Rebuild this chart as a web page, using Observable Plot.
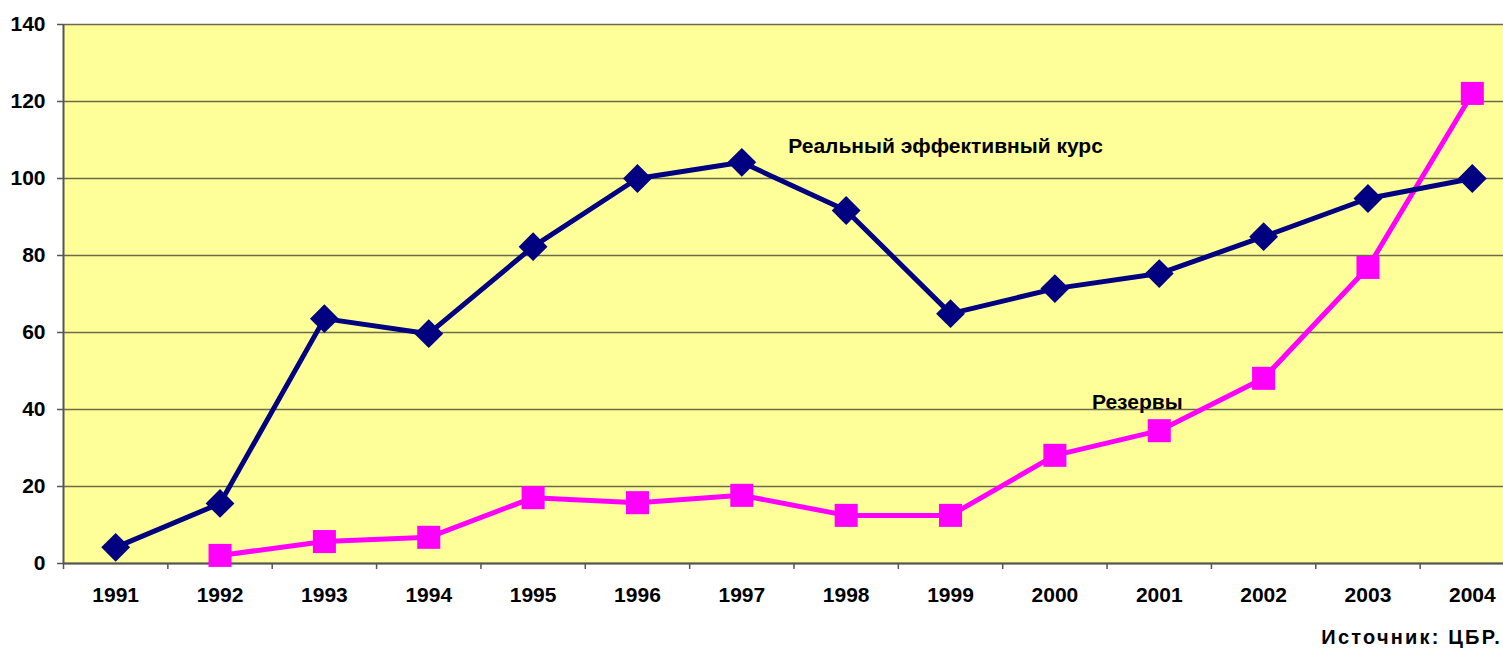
<!DOCTYPE html>
<html><head><meta charset="utf-8">
<script src="https://cdn.jsdelivr.net/npm/d3@7"></script>
<script src="https://cdn.jsdelivr.net/npm/@observablehq/plot@0.6"></script>
<style>
body{margin:0;background:#fff;font-family:"Liberation Sans",Arial,sans-serif;}
#cap{width:1503px;text-align:right;font:bold 20px "Liberation Sans",Arial,sans-serif;letter-spacing:2.2px;margin-top:11px;box-sizing:border-box;padding-right:1px;}
</style></head>
<body>
<div id="chart"></div>
<div id="cap">Источник: ЦБР.</div>
<script>
const years = [1991,1992,1993,1994,1995,1996,1997,1998,1999,2000,2001,2002,2003,2004];
const reer = [4.2,15.6,63.6,59.7,82.3,100,104.2,91.7,64.9,71.4,75.3,84.9,94.8,100];
const reserveYears = [1992,1993,1994,1995,1996,1997,1998,1999,2000,2001,2002,2003,2004];
const reserves = [2.1,5.7,6.8,17.1,15.8,17.7,12.5,12.5,28.1,34.5,48.1,76.9,122.1];
const yTicks = [0,20,40,60,80,100,120,140];
const boundaryTicks = [1990.5,1991.5,1992.5,1993.5,1994.5,1995.5,1996.5,1997.5,1998.5,1999.5,2000.5,2001.5,2002.5,2003.5];
const reerLabel = [{year: 1999, value: 108.3, text: "Реальный эффективный курс"}];
const resLabel = [{year: 2001, value: 41.8, text: "Резервы"}];

const reerData = years.map((y,i)=>({year:y, value:reer[i]}));
const resData = reserveYears.map((y,i)=>({year:y, value:reserves[i]}));

const chart = Plot.plot({
  width: 1503,
  height: 615,
  marginLeft: 63,
  marginRight: 0,
  marginTop: 24,
  marginBottom: 52,
  style: {fontFamily: '"Liberation Sans", Arial, sans-serif', fontWeight: "bold", fontSize: "21px", color: "#000", background: "#fff"},
  x: {domain: [1990.5, 2004.5], range: [63, 1524]},
  y: {domain: [0, 140]},
  marks: [
    Plot.frame({fill: "#FFFF99", stroke: null}),
    Plot.gridY(yTicks, {stroke: "#6b6b4a", strokeOpacity: 1, strokeWidth: 1.5}),
    Plot.axisY(yTicks, {tickSize: 6, tickPadding: 12, stroke: "#555", strokeWidth: 1.5, fontSize: 21, fontWeight: "bold", label: null}),
    Plot.axisX(boundaryTicks, {tickSize: 6, tickFormat: () => "", stroke: "#555", strokeWidth: 1.5, label: null}),
    Plot.axisX(years, {tickSize: 0, tickPadding: 24, tickFormat: d => String(d), fontSize: 21, fontWeight: "bold", label: null, style: "letter-spacing:0.6px"}),
    Plot.ruleX([1990.5], {stroke: "#555", strokeWidth: 2}),
    Plot.ruleY([0], {stroke: "#555", strokeWidth: 2}),
    Plot.line(resData, {x: "year", y: "value", stroke: "#FF00FF", strokeWidth: 5}),
    Plot.line(reerData, {x: "year", y: "value", stroke: "#000080", strokeWidth: 5}),
    Plot.dot(resData, {x: "year", y: "value", symbol: "square", r: 13, fill: "#FF00FF", stroke: null}),
    Plot.dot(reerData, {x: "year", y: "value", symbol: "diamond2", r: 13, fill: "#000080", stroke: null}),
    Plot.text(reerLabel, {x: "year", y: "value", text: "text", dx: -5, fontSize: 21, fontWeight: "bold", fill: "#000", style: "letter-spacing:2.1px"}),
    Plot.text(resLabel, {x: "year", y: "value", text: "text", dx: -22, fontSize: 21, fontWeight: "bold", fill: "#000", style: "letter-spacing:2.1px"})
  ]
});
document.getElementById("chart").appendChild(chart);
</script>
</body></html>
